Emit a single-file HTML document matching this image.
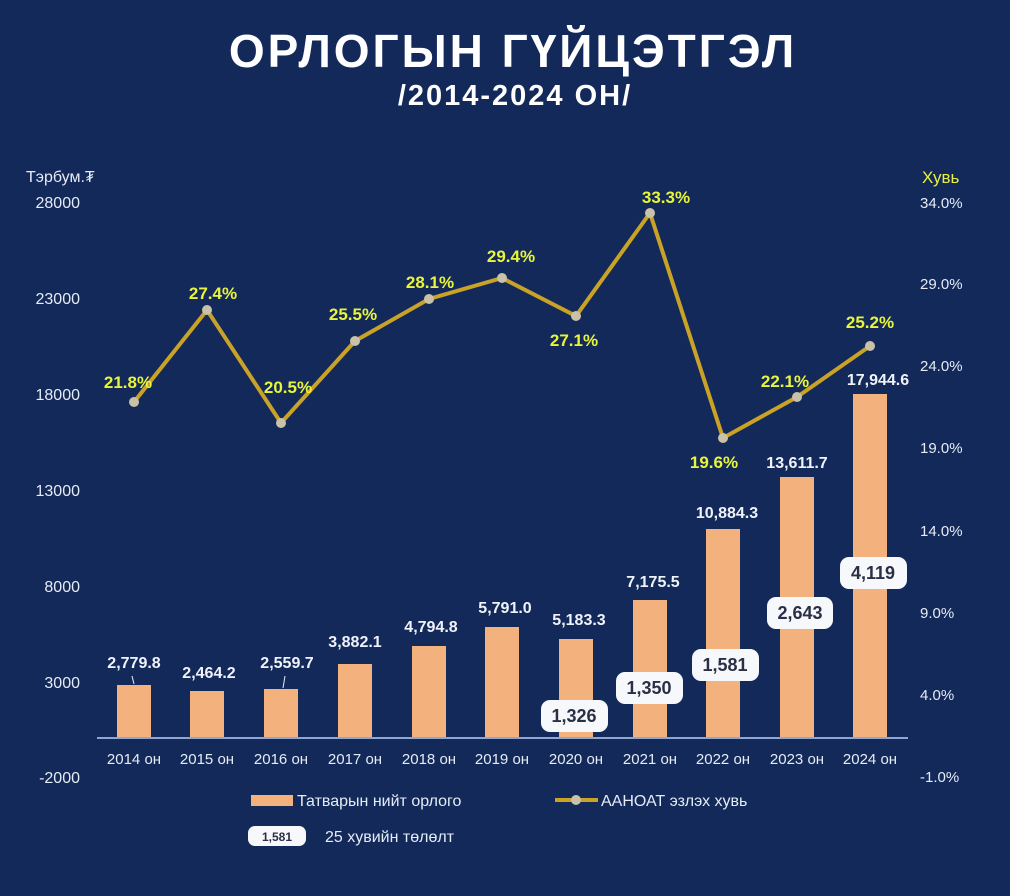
<!DOCTYPE html>
<html><head><meta charset="utf-8"><style>
html,body{margin:0;padding:0;background:#13295a;}
svg{display:block;font-family:"Liberation Sans","DejaVu Sans",sans-serif;}
</style></head><body>
<svg width="1010" height="896" viewBox="0 0 1010 896" xmlns="http://www.w3.org/2000/svg">
<rect width="1010" height="896" fill="#13295a"/>
<text x="513" y="67" text-anchor="middle" fill="#fff" font-size="46" font-weight="bold" letter-spacing="3">ОРЛОГЫН ГҮЙЦЭТГЭЛ</text>
<text x="515" y="105" text-anchor="middle" fill="#fff" font-size="29" font-weight="bold" letter-spacing="2">/2014-2024 ОН/</text>
<g fill="#e6ecf5" font-size="16">
<text x="26" y="182">Тэрбум.₮</text>
<g text-anchor="end">
<text x="80" y="208">28000</text><text x="80" y="304">23000</text><text x="80" y="400">18000</text>
<text x="80" y="496">13000</text><text x="80" y="592">8000</text><text x="80" y="688">3000</text><text x="80" y="783">-2000</text>
</g>
<g font-size="15">
<text x="920" y="208">34.0%</text><text x="920" y="289">29.0%</text><text x="920" y="371">24.0%</text>
<text x="920" y="453">19.0%</text><text x="920" y="536">14.0%</text><text x="920" y="618">9.0%</text>
<text x="920" y="700">4.0%</text><text x="920" y="782">-1.0%</text>
</g>
</g>
<text x="922" y="183" fill="#e8f040" font-size="17">Хувь</text>
<g fill="#f3b17d">
<rect x="117" y="685" width="34" height="53"/><rect x="190" y="691" width="34" height="47"/>
<rect x="264" y="689" width="34" height="49"/><rect x="338" y="664" width="34" height="74"/>
<rect x="412" y="646" width="34" height="92"/><rect x="485" y="627" width="34" height="111"/>
<rect x="559" y="639" width="34" height="99"/><rect x="633" y="600" width="34" height="138"/>
<rect x="706" y="529" width="34" height="209"/><rect x="780" y="477" width="34" height="261"/>
<rect x="853" y="394" width="34" height="344"/>
</g>
<line x1="97" y1="738" x2="908" y2="738" stroke="#8ea6d0" stroke-width="2"/>
<line x1="132" y1="676" x2="134" y2="684" stroke="#e6ecf5" stroke-width="1"/>
<line x1="285" y1="676" x2="283" y2="688" stroke="#e6ecf5" stroke-width="1"/>
<g fill="#e6ecf5" font-size="15" text-anchor="middle">
<text x="134" y="764">2014 он</text><text x="207" y="764">2015 он</text><text x="281" y="764">2016 он</text>
<text x="355" y="764">2017 он</text><text x="429" y="764">2018 он</text><text x="502" y="764">2019 он</text>
<text x="576" y="764">2020 он</text><text x="650" y="764">2021 он</text><text x="723" y="764">2022 он</text>
<text x="797" y="764">2023 он</text><text x="870" y="764">2024 он</text>
</g>
<g fill="#f0f3fa" font-size="16" font-weight="bold" text-anchor="middle">
<text x="134" y="668">2,779.8</text><text x="209" y="678">2,464.2</text><text x="287" y="668">2,559.7</text>
<text x="355" y="647">3,882.1</text><text x="431" y="632">4,794.8</text><text x="505" y="613">5,791.0</text>
<text x="579" y="625">5,183.3</text><text x="653" y="587">7,175.5</text><text x="727" y="518">10,884.3</text>
<text x="797" y="468">13,611.7</text><text x="878" y="385">17,944.6</text>
</g>
<polyline fill="none" stroke="#c9a227" stroke-width="4" points="134,402 207,310 281,423 355,341 429,299 502,278 576,316 650,213 723,438 797,397 870,346"/>
<g fill="#c9c1a8">
<circle cx="134" cy="402" r="5"/><circle cx="207" cy="310" r="5"/><circle cx="281" cy="423" r="5"/>
<circle cx="355" cy="341" r="5"/><circle cx="429" cy="299" r="5"/><circle cx="502" cy="278" r="5"/>
<circle cx="576" cy="316" r="5"/><circle cx="650" cy="213" r="5"/><circle cx="723" cy="438" r="5"/>
<circle cx="797" cy="397" r="5"/><circle cx="870" cy="346" r="5"/>
</g>
<g fill="#e8f53a" font-size="17" font-weight="bold" text-anchor="middle">
<text x="128" y="388">21.8%</text><text x="213" y="299">27.4%</text><text x="288" y="393">20.5%</text>
<text x="353" y="320">25.5%</text><text x="430" y="288">28.1%</text><text x="511" y="262">29.4%</text>
<text x="574" y="346">27.1%</text><text x="666" y="203">33.3%</text><text x="714" y="468">19.6%</text>
<text x="785" y="387">22.1%</text><text x="870" y="328">25.2%</text>
</g>
<g font-size="18" font-weight="bold" text-anchor="middle" fill="#2a2f45">
<rect x="541" y="700" width="67" height="32" rx="9" fill="#f7f8fb"/><text x="574" y="722">1,326</text>
<rect x="616" y="672" width="67" height="32" rx="9" fill="#f7f8fb"/><text x="649" y="694">1,350</text>
<rect x="692" y="649" width="67" height="32" rx="9" fill="#f7f8fb"/><text x="725" y="671">1,581</text>
<rect x="767" y="597" width="66" height="32" rx="9" fill="#f7f8fb"/><text x="800" y="619">2,643</text>
<rect x="840" y="557" width="67" height="32" rx="9" fill="#f7f8fb"/><text x="873" y="579">4,119</text>
</g>
<rect x="251" y="795" width="42" height="11" fill="#f3b17d"/>
<text x="297" y="806" fill="#e6ecf5" font-size="16">Татварын нийт орлого</text>
<line x1="555" y1="800" x2="598" y2="800" stroke="#c9a227" stroke-width="4"/>
<circle cx="576" cy="800" r="5" fill="#c9c1a8"/>
<text x="601" y="806" fill="#e6ecf5" font-size="16">ААНОАТ эзлэх хувь</text>
<rect x="248" y="826" width="58" height="20" rx="7" fill="#f7f8fb"/>
<text x="277" y="841" fill="#2a2f45" font-size="12" font-weight="bold" text-anchor="middle">1,581</text>
<text x="325" y="842" fill="#e6ecf5" font-size="16">25 хувийн төлөлт</text>
</svg>
</body></html>
